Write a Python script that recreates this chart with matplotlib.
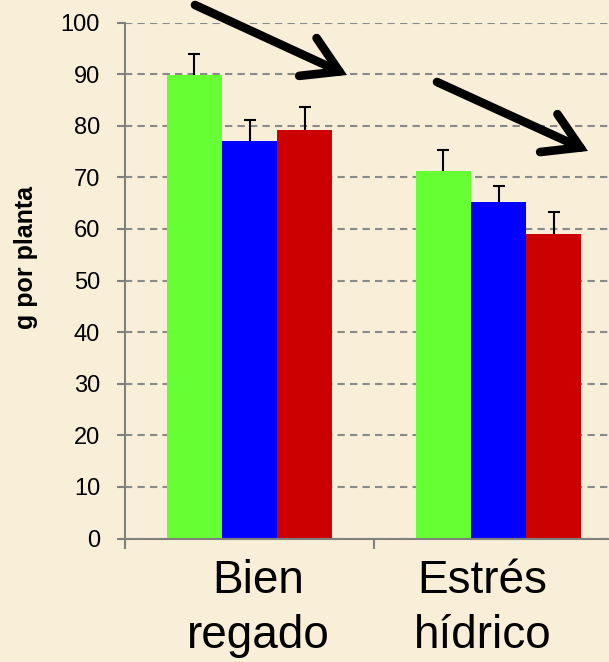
import matplotlib
matplotlib.use("Agg")
import matplotlib.pyplot as plt
import matplotlib.transforms as mtransforms
import numpy as np

categories = ["Bien\nregado", "Estrés\nhídrico"]
green_vals = [89.8, 71.2]
blue_vals = [77.0, 65.2]
red_vals = [79.1, 59.1]
green_err = [4.0, 4.0]
blue_err = [4.2, 3.2]
red_err = [4.5, 4.2]
yticks = [0, 10, 20, 30, 40, 50, 60, 70, 80, 90, 100]
ylabel = "g por planta"

plt.rcParams['font.family'] = ['Liberation Sans', 'DejaVu Sans']

bg = '#F9EFD8'
fig = plt.figure(figsize=(6.09, 6.62), dpi=100, facecolor=bg)
ax = fig.add_axes([125/609, 1 - 538.5/662, 498/609, 516/662])
ax.set_facecolor('none')

x = np.arange(len(categories))
w = 0.222
series = [(green_vals, green_err, '#66FF33'),
          (blue_vals, blue_err, '#0000FF'),
          (red_vals, red_err, '#CC0000')]
for i, (vals, errs, col) in enumerate(series):
    pos = x + (i - 1) * w
    ax.bar(pos, vals, width=w, color=col, edgecolor='none', zorder=2)
    eb = ax.errorbar(pos, vals, yerr=[np.zeros(len(errs)), errs], fmt='none',
                     ecolor='black', elinewidth=1.5, capsize=4.3, capthick=1.5, zorder=3)
    caps = eb[1]
    if len(caps) > 1:
        caps[0].set_visible(False)

ax.set_xlim(-0.5, 1.5)
ax.set_ylim(0, 100)
ax.set_yticks(yticks)
ax.set_xticks(x)
ax.set_xticklabels(categories, fontsize=33, linespacing=1.3)
ax.set_xticks([-0.5, 0.5, 1.5], minor=True)
ax.tick_params(axis='x', which='major', length=0, pad=15)
ax.tick_params(axis='x', which='minor', length=7, width=1.5, color='#808080', direction='out')
ax.tick_params(axis='y', length=6, width=1.5, color='#808080', direction='out', labelsize=17, pad=12)

for sp in ['top', 'right']:
    ax.spines[sp].set_visible(False)
for sp in ['left', 'bottom']:
    ax.spines[sp].set_color('#808080')
    ax.spines[sp].set_linewidth(1.5)

ax.set_axisbelow(True)
ax.yaxis.grid(True, color='#8A8A8A', linewidth=1.5, linestyle=(0, (3.5, 2.5)))
ax.xaxis.grid(False)

ax.set_ylabel(ylabel, fontsize=18, fontweight='bold')
ax.yaxis.set_label_coords(-0.175, 0.545)

# shift category labels slightly like the reference
offsets = [9, -16]
for lbl, dx in zip(ax.get_xticklabels(), offsets):
    lbl.set_transform(lbl.get_transform() + mtransforms.ScaledTranslation(dx/100, 0, fig.dpi_scale_trans))

# decorative arrows (figure pixel coordinates, origin bottom-left)
H = 662
for (x0, y0, x1, y1) in [(195, 5, 347, 75), (437, 82, 588, 151)]:
    fig.patches.append(matplotlib.patches.FancyArrowPatch(
        (x0, H - y0), (x1, H - y1), transform=None,
        arrowstyle=matplotlib.patches.ArrowStyle('->', head_length=1.0, head_width=0.6),
        mutation_scale=25, linewidth=6.2, color='black', capstyle='round',
        joinstyle='miter', shrinkA=0, shrinkB=0))

fig.savefig('out.png', dpi=100, facecolor=bg)
